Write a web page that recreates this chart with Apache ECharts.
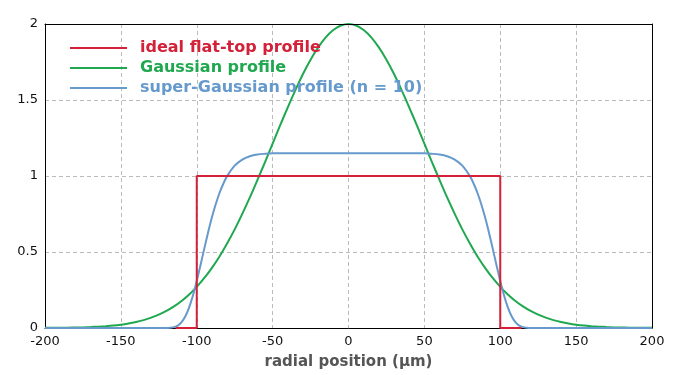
<!DOCTYPE html>
<html>
<head>
<meta charset="utf-8">
<script src="https://cdn.jsdelivr.net/npm/echarts@6/dist/echarts.min.js"></script>
<style>html,body{margin:0;padding:0;background:#fff;}#c{width:700px;height:375px;}</style>
</head>
<body>
<div id="c"></div>
<script>
// radial positions (µm) and intensities
const gaussX = [-200,-195,-190,-185,-180,-175,-170,-165,-160,-155,-150,-145,-140,-135,-130,-125,-120,-115,-110,-105,-100,-95,-90,-85,-80,-75,-70,-65,-60,-55,-50,-45,-40,-35,-30,-25,-20,-15,-10,-5,0,5,10,15,20,25,30,35,40,45,50,55,60,65,70,75,80,85,90,95,100,105,110,115,120,125,130,135,140,145,150,155,160,165,170,175,180,185,190,195,200];
const gaussY = [0.001,0.001,0.001,0.002,0.003,0.004,0.006,0.009,0.012,0.016,0.022,0.030,0.040,0.052,0.068,0.088,0.112,0.142,0.178,0.221,0.271,0.329,0.396,0.471,0.556,0.649,0.751,0.859,0.974,1.092,1.213,1.334,1.452,1.565,1.671,1.765,1.846,1.912,1.960,1.990,2.000,1.990,1.960,1.912,1.846,1.765,1.671,1.565,1.452,1.334,1.213,1.092,0.974,0.859,0.751,0.649,0.556,0.471,0.396,0.329,0.271,0.221,0.178,0.142,0.112,0.088,0.068,0.052,0.040,0.030,0.022,0.016,0.012,0.009,0.006,0.004,0.003,0.002,0.001,0.001,0.001];
const superX = [-200,-150,-125,-120,-117.5,-115,-112.5,-110,-107.5,-105,-102.5,-100,-97.5,-95,-92.5,-90,-87.5,-85,-82.5,-80,-75,-70,-65,-60,-55,-50,0,50,55,60,65,70,75,80,82.5,85,87.5,90,92.5,95,97.5,100,102.5,105,107.5,110,112.5,115,117.5,120,125,150,200];
const superY = [0,0,0,0,0.002,0.006,0.016,0.038,0.077,0.136,0.214,0.309,0.415,0.524,0.630,0.728,0.814,0.888,0.949,0.999,1.068,1.108,1.130,1.141,1.146,1.149,1.150,1.149,1.146,1.141,1.130,1.108,1.068,0.999,0.949,0.888,0.814,0.728,0.630,0.524,0.415,0.309,0.214,0.136,0.077,0.038,0.016,0.006,0.002,0,0,0,0];
const flatX = [-114,-100,-100,100,100,114];
const flatY = [0,0,1,1,0,0];
const xTicks = [-200,-150,-100,-50,0,50,100,150,200];
const yTicks = [0,0.5,1,1.5,2];
const names = ['ideal flat-top profile','Gaussian profile','super-Gaussian profile (n = 10)'];
const colors = ['#d42038','#1fa84f','#6699cc'];

const pairs = (xs, ys) => xs.map((x, i) => [x, ys[i]]);
const chart = echarts.init(document.getElementById('c'), null, {renderer: 'canvas'});
const font = 'DejaVu Sans, Verdana, sans-serif';
const xMin = xTicks[0], xMax = xTicks[xTicks.length - 1];
const yMin = yTicks[0], yMax = yTicks[yTicks.length - 1];
const frameAxis = {axisLine: {show: true, onZero: false, lineStyle: {color: '#000', width: 1}}, axisTick: {show: false}, axisLabel: {show: false}, splitLine: {show: false}, z: 5};
chart.setOption({
  animation: false,
  backgroundColor: '#fff',
  grid: {left: 45, right: 48, top: 24, bottom: 47, containLabel: false},
  legend: {
    orient: 'vertical', left: 65, top: 34, icon: 'rect', itemWidth: 57, itemHeight: 2, itemGap: 2,
    textStyle: {fontFamily: font, fontWeight: 'bold', fontSize: 16, lineHeight: 18, padding: [0, 0, 0, 8]},
    data: names.map((n, i) => ({name: n, textStyle: {color: colors[i]}}))
  },
  xAxis: [{
    type: 'value', min: xMin, max: xMax, interval: 50,
    name: 'radial position (µm)', nameLocation: 'middle', nameGap: 27,
    nameTextStyle: {fontFamily: font, fontWeight: 'bold', fontSize: 15, color: '#555'},
    axisLine: {show: true, onZero: false, lineStyle: {color: '#000', width: 1}},
    axisTick: {show: false},
    axisLabel: {fontFamily: font, fontSize: 13, color: '#111', margin: 7},
    splitLine: {show: true, lineStyle: {color: '#bbb', type: [4, 3], width: 1}}
  }, Object.assign({type: 'value', position: 'top', min: xMin, max: xMax, interval: 50}, frameAxis)],
  yAxis: [{
    type: 'value', min: yMin, max: yMax, interval: 0.5,
    axisLine: {show: true, onZero: false, lineStyle: {color: '#000', width: 1}},
    axisTick: {show: false},
    axisLabel: {fontFamily: font, fontSize: 13, color: '#111', margin: 7},
    splitLine: {show: true, lineStyle: {color: '#bbb', type: [4, 3], width: 1}}
  }, Object.assign({type: 'value', position: 'right', min: yMin, max: yMax, interval: 0.5}, frameAxis)],
  series: [
    {name: names[1], type: 'line', data: pairs(gaussX, gaussY), smooth: 0.3, showSymbol: false, lineStyle: {color: colors[1], width: 2}, itemStyle: {color: colors[1]}, z: 2},
    {name: names[2], type: 'line', data: pairs(superX, superY), smooth: 0.3, showSymbol: false, lineStyle: {color: colors[2], width: 2}, itemStyle: {color: colors[2]}, z: 3},
    {name: names[0], type: 'line', data: pairs(flatX, flatY), showSymbol: false, lineStyle: {color: colors[0], width: 2}, itemStyle: {color: colors[0]}, z: 4}
  ]
});
</script>
</body>
</html>
